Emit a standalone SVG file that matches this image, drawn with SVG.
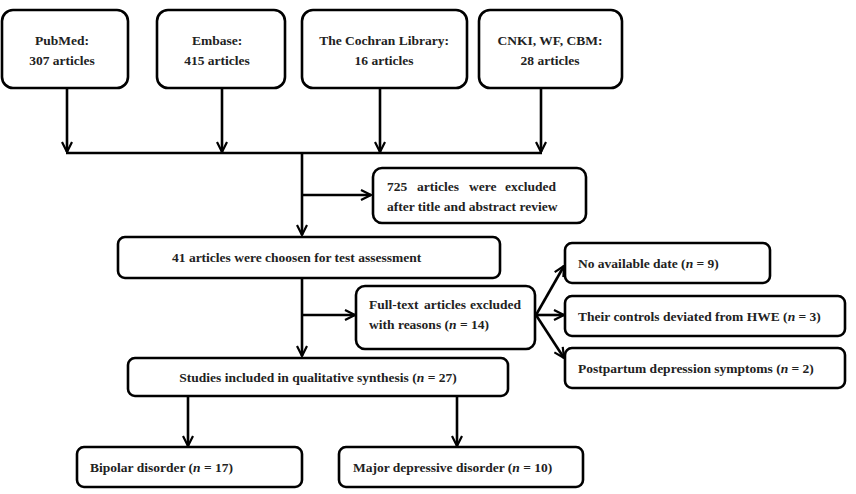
<svg xmlns="http://www.w3.org/2000/svg" width="856" height="494" viewBox="0 0 856 494">
<defs>
<marker id="ah" viewBox="0 0 12 12" refX="11" refY="6" markerWidth="12" markerHeight="12" markerUnits="userSpaceOnUse" orient="auto">
<path d="M1,1 L11,6 L1,11" fill="none" stroke="#000" stroke-width="2.2"/>
</marker>
<style>
.box{fill:#fff;stroke:#000;stroke-width:2.6}
.t{font-family:"Liberation Serif","Times New Roman",serif;font-weight:bold;font-size:13.5px;fill:#222}
.c{text-anchor:middle}
.ln{fill:none;stroke:#000;stroke-width:2.6}
.ar{fill:none;stroke:#000;stroke-width:2.6;marker-end:url(#ah)}
</style>
</defs>
<rect width="856" height="494" fill="#fff"/>
<g id="connectors">
<path class="ar" d="M67,88 V152"/>
<path class="ar" d="M222,88 V152"/>
<path class="ar" d="M380,88 V152"/>
<path class="ar" d="M541,88 V152"/>
<path class="ln" d="M66,153 H542"/>
<path class="ar" d="M302,153 V235"/>
<path class="ar" d="M302,195 H371"/>
<path class="ar" d="M302,278 V356"/>
<path class="ar" d="M302,315 H355"/>
<path class="ar" d="M536,315 L564,266"/>
<path class="ar" d="M536,315 H564"/>
<path class="ar" d="M536,315 L564,358"/>
<path class="ar" d="M188,396 V446"/>
<path class="ar" d="M457,396 V446"/>
</g>
<g id="pubmed">
<rect class="box" x="2" y="10" width="126" height="78" rx="11"/>
<text class="t c" x="62" y="45">PubMed:</text>
<text class="t c" x="62" y="65">307 articles</text>
</g>
<g id="embase">
<rect class="box" x="157" y="10" width="128" height="78" rx="11"/>
<text class="t c" x="217" y="45">Embase:</text>
<text class="t c" x="217" y="65">415 articles</text>
</g>
<g id="cochran">
<rect class="box" x="302" y="10" width="165" height="78" rx="11"/>
<text class="t c" x="384" y="45">The Cochran Library:</text>
<text class="t c" x="384" y="65">16 articles</text>
</g>
<g id="cnki">
<rect class="box" x="479" y="10" width="143" height="78" rx="11"/>
<text class="t c" x="550" y="45">CNKI, WF, CBM:</text>
<text class="t c" x="550" y="65">28 articles</text>
</g>
<g id="excluded725">
<rect class="box" x="373" y="168" width="213" height="55" rx="9"/>
<text class="t" y="191"><tspan x="387">725</tspan> <tspan x="417">articles</tspan> <tspan x="469">were</tspan> <tspan x="505">excluded</tspan></text>
<text class="t" x="387" y="211">after title and abstract review</text>
</g>
<g id="chosen41">
<rect class="box" x="118" y="237" width="382" height="41" rx="7"/>
<text class="t" x="172" y="262">41 articles were choosen for test assessment</text>
</g>
<g id="fulltext">
<rect class="box" x="356" y="286" width="179" height="63" rx="9"/>
<text class="t" y="309"><tspan x="369">Full-text</tspan> <tspan x="424">articles</tspan> <tspan x="470">excluded</tspan></text>
<text class="t" x="369" y="329">with reasons (<tspan font-style="italic">n</tspan> = 14)</text>
</g>
<g id="nodate">
<rect class="box" x="565" y="243" width="205" height="40" rx="7"/>
<text class="t" x="578" y="268">No available date (<tspan font-style="italic">n</tspan> = 9)</text>
</g>
<g id="hwe">
<rect class="box" x="565" y="296" width="280" height="40" rx="7"/>
<text class="t" x="578" y="321">Their controls deviated from HWE (<tspan font-style="italic">n</tspan> = 3)</text>
</g>
<g id="postpartum">
<rect class="box" x="565" y="348" width="280" height="40" rx="7"/>
<text class="t" x="578" y="373">Postpartum depression symptoms (<tspan font-style="italic">n</tspan> = 2)</text>
</g>
<g id="studies">
<rect class="box" x="128" y="358" width="380" height="38" rx="7"/>
<text class="t c" x="318" y="382">Studies included in qualitative synthesis (<tspan font-style="italic">n</tspan> = 27)</text>
</g>
<g id="bipolar">
<rect class="box" x="77" y="447" width="225" height="40" rx="7"/>
<text class="t" x="90" y="472">Bipolar disorder (<tspan font-style="italic">n</tspan> = 17)</text>
</g>
<g id="mdd">
<rect class="box" x="339" y="447" width="244" height="40" rx="7"/>
<text class="t" x="353" y="472">Major depressive disorder (<tspan font-style="italic">n</tspan> = 10)</text>
</g>
</svg>
